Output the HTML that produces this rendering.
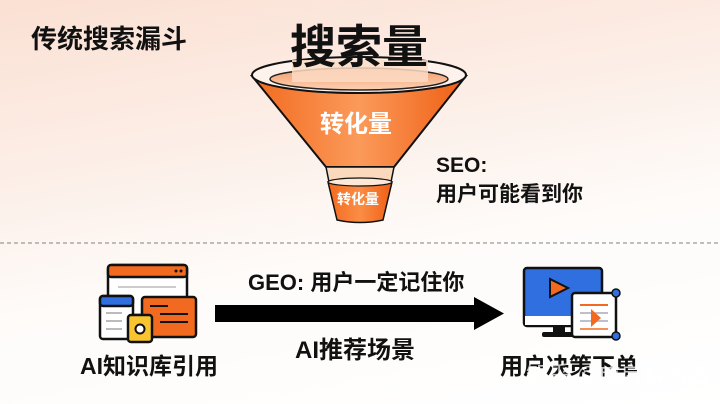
<!DOCTYPE html>
<html><head><meta charset="utf-8"><style>
html,body{margin:0;padding:0}
body{width:720px;height:404px;overflow:hidden;position:relative;
background:linear-gradient(170deg,#fbe0d3 0%,#fcefe8 35%,#fefbf9 60%,#ffffff 100%);
font-family:"Liberation Sans","Noto Sans CJK SC",sans-serif;font-weight:bold;color:#111}
.t{position:absolute;white-space:nowrap;line-height:1}
svg{position:absolute;left:0;top:0}
</style></head><body>
<svg width="720" height="404" viewBox="0 0 720 404">
<defs>
<linearGradient id="cone" x1="0" y1="0" x2="1" y2="0">
<stop offset="0" stop-color="#f26a1f"/><stop offset="0.5" stop-color="#fb9a5a"/><stop offset="1" stop-color="#ef5f14"/></linearGradient>
<linearGradient id="inner" x1="0" y1="0" x2="0" y2="1">
<stop offset="0" stop-color="#f59a66"/><stop offset="1" stop-color="#fbd1b5"/></linearGradient>
<linearGradient id="cup" x1="0" y1="0" x2="1" y2="0">
<stop offset="0" stop-color="#f26a1f"/><stop offset="0.5" stop-color="#fb8d45"/><stop offset="1" stop-color="#ef5f14"/></linearGradient>
</defs>
<path d="M252,76 L326,167 L394,167 L466,76 Z" fill="url(#cone)" stroke="#111" stroke-width="2"/>
<ellipse cx="359" cy="75" rx="107" ry="18" fill="#fdf3ec" stroke="#111" stroke-width="2"/>
<ellipse cx="359" cy="79" rx="89" ry="11" fill="url(#inner)" stroke="#222" stroke-width="1.5"/>
<rect x="292" y="60" width="136" height="22" fill="#fbdcc6" opacity="0.85"/>
<path d="M326,167 L329,182 L391,182 L394,167 Z" fill="#fbd9bd" stroke="#111" stroke-width="1.5"/>
<path d="M328,182 L337,220 Q360,225 383,220 L392,182 Z" fill="url(#cup)" stroke="#111" stroke-width="1.5"/>
<ellipse cx="360" cy="182" rx="32" ry="4" fill="#fde7d6" stroke="#111" stroke-width="1.2"/>
<line x1="0" y1="243" x2="720" y2="243" stroke="#999" stroke-width="1.2" stroke-dasharray="4,3"/>
<rect x="215" y="305" width="264" height="17" fill="#000"/>
<polygon points="474,297 504,313.5 474,330" fill="#000"/>
<rect x="108" y="265" width="79" height="50" rx="4" fill="#fff" stroke="#111" stroke-width="2.5"/>
<rect x="108" y="265" width="79" height="12" rx="3" fill="#f26a1f" stroke="#111" stroke-width="2.5"/>
<circle cx="176" cy="271" r="1.5" fill="#111"/><circle cx="181" cy="271" r="1.5" fill="#111"/>
<line x1="118" y1="287" x2="176" y2="287" stroke="#ccc" stroke-width="2"/>
<rect x="100" y="296" width="33" height="43" rx="3" fill="#fff" stroke="#111" stroke-width="2.5"/>
<rect x="100" y="296" width="33" height="10" rx="3" fill="#2f6fdf" stroke="#111" stroke-width="2.5"/>
<line x1="106" y1="313" x2="122" y2="313" stroke="#bbb" stroke-width="2"/>
<line x1="106" y1="321" x2="122" y2="321" stroke="#bbb" stroke-width="2"/>
<line x1="106" y1="329" x2="122" y2="329" stroke="#bbb" stroke-width="2"/>
<rect x="142" y="297" width="54" height="40" rx="3" fill="#f26a1f" stroke="#111" stroke-width="2.5"/>
<line x1="150" y1="306" x2="168" y2="306" stroke="#111" stroke-width="2"/>
<line x1="160" y1="314" x2="188" y2="314" stroke="#111" stroke-width="2"/>
<line x1="160" y1="322" x2="188" y2="322" stroke="#111" stroke-width="2"/>
<rect x="128" y="315" width="24" height="27" rx="3" fill="#f8c430" stroke="#111" stroke-width="2.5"/>
<circle cx="140" cy="329" r="4.5" fill="#fff" stroke="#111" stroke-width="2"/>
<rect x="524" y="268" width="78" height="58" rx="3" fill="#2f6fdf" stroke="#111" stroke-width="2.5"/>
<rect x="525" y="316" width="76" height="9" fill="#fff"/>
<rect x="553" y="326" width="12" height="7" fill="#111"/>
<rect x="542" y="332" width="36" height="5" rx="2" fill="#111"/>
<polygon points="550,279 550,297 568,288" fill="#f26a1f" stroke="#111" stroke-width="2"/>
<rect x="572" y="293" width="44" height="44" rx="3" fill="#fff" stroke="#111" stroke-width="2.5"/>
<line x1="580" y1="305" x2="608" y2="305" stroke="#f26a1f" stroke-width="2"/>
<line x1="580" y1="313" x2="608" y2="313" stroke="#aab" stroke-width="1.5"/>
<line x1="580" y1="321" x2="608" y2="321" stroke="#aab" stroke-width="1.5"/>
<line x1="580" y1="329" x2="608" y2="329" stroke="#f26a1f" stroke-width="1.5"/>
<polygon points="591,309 591,327 601,318" fill="#f26a1f"/>
<circle cx="616" cy="293" r="4" fill="#2f6fdf" stroke="#111" stroke-width="1.5"/>
<circle cx="616" cy="336" r="4" fill="#2f6fdf" stroke="#111" stroke-width="1.5"/>
</svg>
<div class="t" style="left:31px;top:26px;font-size:26px">传统搜索漏斗</div>
<div class="t" style="left:290px;top:24px;font-size:46px;color:#111">搜索量</div>
<div class="t" style="left:320px;top:113px;font-size:24px;color:#fff">转化量</div>
<div class="t" style="left:337px;top:192px;font-size:14px;color:#fff">转化量</div>
<div class="t" style="left:436px;top:155px;font-size:21px">SEO:</div>
<div class="t" style="left:436px;top:184px;font-size:21px">用户可能看到你</div>
<div class="t" style="left:248px;top:272px;font-size:22px">GEO:&nbsp;用户一定记住你</div>
<div class="t" style="left:295px;top:339px;font-size:24px">AI推荐场景</div>
<div class="t" style="left:80px;top:355px;font-size:23px">AI知识库引用</div>
<div class="t" style="left:500px;top:355px;font-size:23px">用户决策下单</div>
<div class="t" style="left:526px;top:364px;font-size:22px;color:rgba(255,255,255,0.75);font-weight:normal">知乎 @成启科讯达</div>
</body></html>
